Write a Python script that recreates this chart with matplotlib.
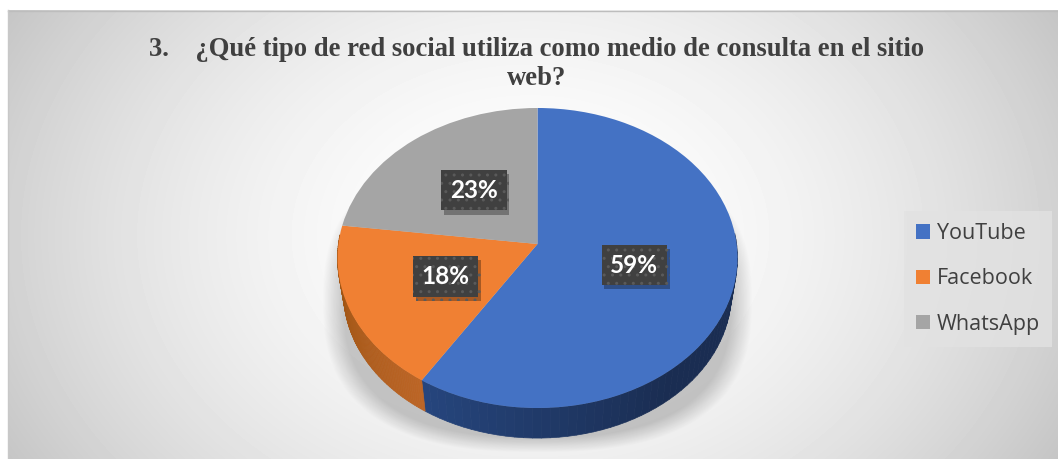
import numpy as np
import matplotlib
matplotlib.use("Agg")
import matplotlib.pyplot as plt
import matplotlib.patheffects as pe
from matplotlib.collections import PolyCollection
from matplotlib.transforms import Transform

title = "3.    ¿Qué tipo de red social utiliza como medio de consulta en el sitio\nweb?"
categories = ["YouTube", "Facebook", "WhatsApp"]
shares = [59, 18, 23]
colors = ["#4472C4", "#F08033", "#A5A5A5"]
side_start = ["#26467E", "#BC6526", "#7A7A7A"]
side_end = ["#1A2D52", "#96500F", "#7A7A7A"]

W, H = 1058, 459
CX, CY = 537.5, 244.0     # where the pie apex lands
A, B, K = 199.1, 148.7, 0.0933   # tilt of the pie


def project(x, y, scale=1.0, cy=CY):
    # the tilted pie is a homography of the unit circle
    w = 1 + K * y
    return CX + scale * A * x / w, cy - scale * B * y / w


class Tilt(Transform):
    input_dims = output_dims = 2

    def transform_non_affine(self, values):
        values = np.asarray(values)
        px, py = project(values[:, 0], values[:, 1])
        return np.column_stack([px, py])


fig = plt.figure(figsize=(W / 100, H / 100), dpi=100, facecolor="white")
ax = fig.add_axes([0, 0, 1, 1])

wedges, _, autotexts = ax.pie(
    shares, colors=colors, startangle=90, counterclock=False,
    autopct="%.0f%%", pctdistance=0.5, radius=1,
    wedgeprops={"linewidth": 0, "zorder": 5},
)
ax.set_aspect("auto")
ax.axis("off")

tilt = Tilt()
for wedge in wedges:
    wedge.set_transform(tilt + ax.transData)

# background, lit from the middle
gx, gy = np.meshgrid(np.arange(8, W), np.arange(10, H))
d = np.hypot((gx - 530) / 530, (gy - 235) / 400)
grey = (255 - 46 * d ** 1.8) / 255
ax.imshow(grey, cmap="gray", vmin=0, vmax=1, extent=(8, W, H, 10),
          aspect="auto", zorder=0)
ax.plot([8, W], [10.5, 10.5], color="#BDBDBD", lw=1, zorder=1)
ax.plot([7.5, 7.5], [10, H], color="#C8C8C8", lw=1, zorder=1)

# soft shadow under the pie
sx, sy = np.meshgrid(np.arange(300, 780), np.arange(180, H))
sd = (np.abs((sx - 537) / 215) ** 2.6 + np.abs((sy - 300) / 152) ** 2.6) ** (1 / 2.6)
shadow = np.zeros(sx.shape + (4,))
shadow[..., 3] = np.clip((1.0 - sd) / 0.1, 0, 1) * 0.2
ax.imshow(shadow, extent=(300, 780, H, 180), aspect="auto", zorder=1)
ax.set_xlim(0, W)
ax.set_ylim(H, 0)

# side wall, split per wedge so it can be shaded along the rim
edges = 90 - np.cumsum([0] + shares) * 3.6
segments, seg_colors = [], []
for i in range(len(shares)):
    angles = np.linspace(edges[i], edges[i + 1], 90)
    t = (angles[:-1] - edges[i + 1]) / (edges[i] - edges[i + 1])
    t = np.clip(t * 3, 0, 1) if i == 0 else 1 - t
    c0 = np.array(matplotlib.colors.to_rgb(side_start[i]))
    c1 = np.array(matplotlib.colors.to_rgb(side_end[i]))
    for a0, a1, f in zip(angles[:-1], angles[1:], t):
        r0, r1 = np.radians(a0), np.radians(a1)
        # the back of the wall is hidden by the top face
        if np.sin(r0) > 0.05 and np.sin(r1) > 0.05:
            continue
        x0, y0 = project(np.cos(r0), np.sin(r0))
        x1, y1 = project(np.cos(r1), np.sin(r1))
        x2, y2 = project(np.cos(r1), np.sin(r1), 0.97, 279)
        x3, y3 = project(np.cos(r0), np.sin(r0), 0.97, 279)
        segments.append([(x0, y0), (x1, y1), (x2, y2), (x3, y3)])
        seg_colors.append(c0 + (c1 - c0) * f)
ax.add_collection(PolyCollection(segments, facecolors=seg_colors,
                                 edgecolors=seg_colors, linewidths=0.5, zorder=4))

for text in autotexts:
    text.set_transform(tilt + ax.transData)
    text.set(family="Lato", weight="bold", size=17.5, color="white",
             ha="center", va="center", zorder=7)
    text.set_bbox(dict(boxstyle="square,pad=0.36", facecolor="#404040",
                       edgecolor="#5A5A5A", hatch="..", linewidth=0))
    text.get_bbox_patch().set_path_effects(
        [pe.withSimplePatchShadow(offset=(2, -3), shadow_rgbFace="black", alpha=0.3)])

ax.text(537, 64, title, family="Liberation Serif", weight="bold", size=19.2,
        color="#404040", ha="center", va="center", linespacing=1.2, zorder=6)

legend = ax.legend(
    wedges, categories, loc="center", bbox_to_anchor=(978 / W, 1 - 279 / H),
    frameon=True, fancybox=False, facecolor="#E2E2E2", edgecolor="none",
    framealpha=0.8, prop={"family": "Open Sans", "size": 15.5},
    labelcolor="#404040", handlelength=0.65, handleheight=0.65,
    handletextpad=0.3, labelspacing=1.13, borderpad=0.55, borderaxespad=0,
)
legend.set_zorder(6)

fig.savefig("out.png", dpi=100)
